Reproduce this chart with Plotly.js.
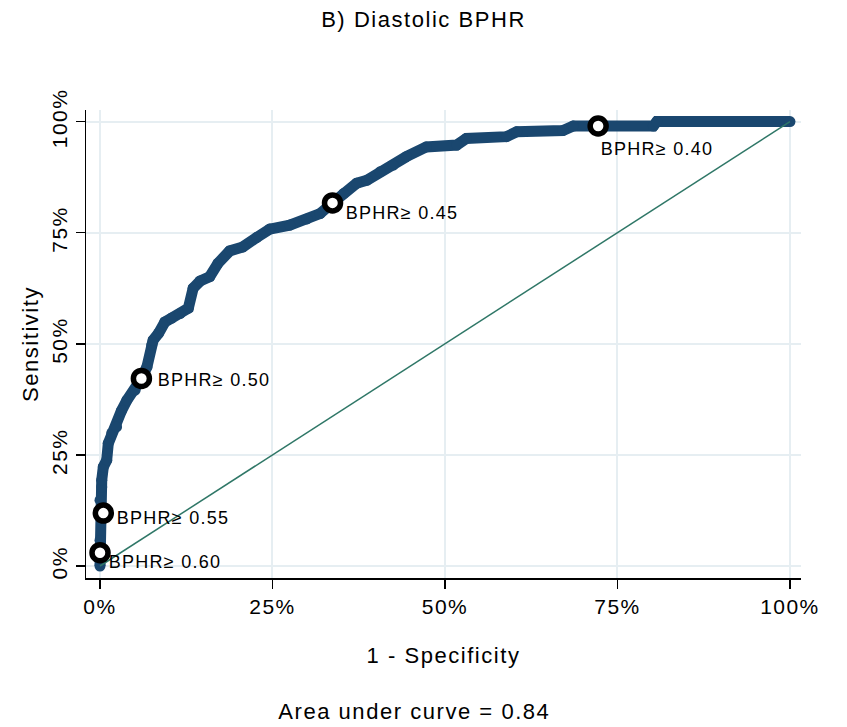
<!DOCTYPE html>
<html>
<head>
<meta charset="utf-8">
<script src="https://cdn.plot.ly/plotly-3.0.1.min.js"></script>
<style>
  html, body { margin: 0; padding: 0; background: #fff; }
  #chart { width: 847px; height: 727px; }
  .main-svg text { letter-spacing: 0.07em; }
</style>
</head>
<body>
<div id="chart"></div>
<script>
// ROC curve (1 - specificity, sensitivity)
const fpr = [0, 0, 0, 0, 0.0025, 0.0025, 0.0048, 0.0097, 0.012, 0.017, 0.024, 0.031, 0.039, 0.051, 0.060,
  0.068, 0.075, 0.077, 0.085, 0.094, 0.104, 0.116, 0.128, 0.135, 0.145, 0.159, 0.171, 0.188, 0.207, 0.227,
  0.246, 0.275, 0.300, 0.319, 0.337, 0.353, 0.372, 0.387, 0.406, 0.425, 0.444, 0.473, 0.517, 0.531, 0.589,
  0.604, 0.671, 0.686, 0.722, 0.802, 0.807, 1.0];
const tpr = [0, 0.058, 0.126, 0.148, 0.178, 0.193, 0.223, 0.238, 0.276, 0.299, 0.313, 0.349, 0.373, 0.396, 0.422,
  0.448, 0.497, 0.508, 0.524, 0.549, 0.558, 0.568, 0.580, 0.625, 0.641, 0.651, 0.681, 0.709, 0.718, 0.739,
  0.758, 0.767, 0.781, 0.793, 0.817, 0.838, 0.861, 0.868, 0.887, 0.902, 0.921, 0.943, 0.947, 0.962, 0.966,
  0.977, 0.980, 0.990, 0.990, 0.990, 1.0, 1.0];

// Reference (chance) line
const refX = [0, 1];
const refY = [0, 1];

// Labelled cut-off points
const cutLabels = ['BPHR\u2265 0.60', 'BPHR\u2265 0.55', 'BPHR\u2265 0.50', 'BPHR\u2265 0.45', 'BPHR\u2265 0.40'];
const cutFpr = [0, 0.0048, 0.060, 0.337, 0.722];
const cutTpr = [0.030, 0.119, 0.422, 0.817, 0.990];

// Axis ticks
const tickVals = [0, 0.25, 0.5, 0.75, 1];
const tickText = ['0%', '25%', '50%', '75%', '100%'];

const aucText = 'Area under curve = 0.84';

// label offsets (pixels) for each cut-off label
const labelShift = [[13, -9], [18, -5], [21, -2], [17, -10], [7, -23]];

const FONT = '"Liberation Sans", Arial, Helvetica, sans-serif';
const NAVY = '#1a476f';

const traces = [
  {
    x: fpr, y: tpr, type: 'scatter', mode: 'lines+markers',
    line: { color: NAVY, width: 11, shape: 'linear' },
    marker: { color: NAVY, size: 11 },
    hoverinfo: 'skip', showlegend: false
  },
  {
    x: refX, y: refY, type: 'scatter', mode: 'lines',
    line: { color: '#2f7767', width: 1.5 },
    hoverinfo: 'skip', showlegend: false
  },
  {
    x: cutFpr, y: cutTpr, type: 'scatter', mode: 'markers',
    marker: { color: '#ffffff', size: 16, line: { color: '#000000', width: 5.5 } },
    hoverinfo: 'skip', showlegend: false
  }
];

const annotations = cutLabels.map((t, i) => ({
  x: cutFpr[i], y: cutTpr[i], xref: 'x', yref: 'y',
  text: t, showarrow: false, xanchor: 'left', yanchor: 'middle',
  xshift: labelShift[i][0], yshift: labelShift[i][1],
  font: { family: FONT, size: 18, color: '#000' }
}));

annotations.push({
  x: 0.46, y: -0.286, xref: 'paper', yref: 'paper',
  text: aucText, showarrow: false, xanchor: 'center', yanchor: 'middle',
  font: { family: FONT, size: 22, color: '#000' }
});

const axisCommon = {
  tickvals: tickVals, ticktext: tickText,
  ticks: 'outside', ticklen: 9, tickwidth: 1.5, tickcolor: '#000',
  showline: true, linecolor: '#000', linewidth: 1.5, mirror: false,
  showgrid: true, gridcolor: '#e6eef2', gridwidth: 2,
  zeroline: false,
  tickfont: { family: FONT, size: 21, color: '#000' },
  automargin: false, fixedrange: true
};

const layout = {
  width: 847, height: 727,
  paper_bgcolor: '#ffffff', plot_bgcolor: '#ffffff',
  margin: { l: 86, r: 46, t: 110, b: 149 },
  font: { family: FONT, color: '#000' },
  title: {
    text: 'B) Diastolic BPHR',
    font: { family: FONT, size: 22, color: '#000' },
    x: 0.5, xref: 'container', xanchor: 'center',
    y: 1 - 19 / 727, yref: 'container', yanchor: 'middle'
  },
  xaxis: Object.assign({}, axisCommon, {
    range: [-0.0203, 1.016],
    title: { text: '1 - Specificity', font: { family: FONT, size: 22, color: '#000' }, standoff: 31 }
  }),
  yaxis: Object.assign({}, axisCommon, {
    range: [-0.027, 1.026],
    tickangle: -90,
    title: { text: 'Sensitivity', font: { family: FONT, size: 22, color: '#000' }, standoff: 3 }
  }),
  annotations: annotations,
  showlegend: false
};

Plotly.newPlot('chart', traces, layout, { displayModeBar: false, staticPlot: true });
</script>
</body>
</html>
